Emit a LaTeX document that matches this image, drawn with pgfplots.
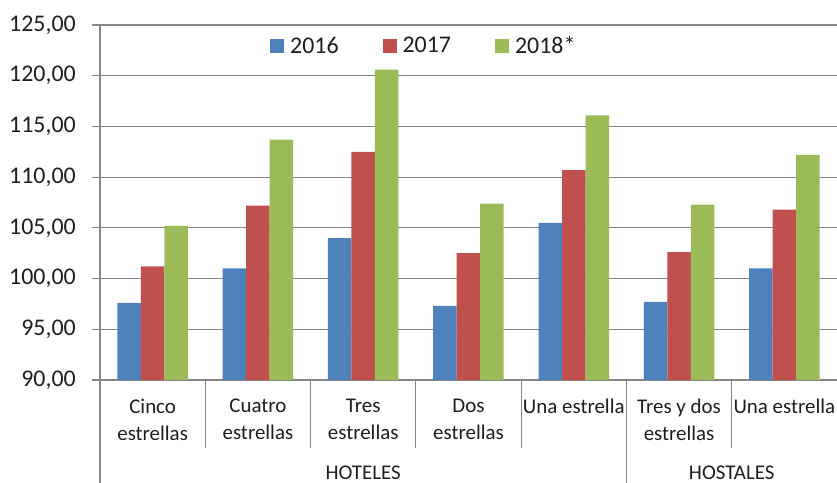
\documentclass[border=0pt]{standalone}
\usepackage{pgfplots}
\pgfplotsset{compat=1.18}
\usepackage{fontspec}
\setmainfont{Carlito}
\definecolor{c16}{RGB}{79,129,189}
\definecolor{c17}{RGB}{192,80,77}
\definecolor{c18}{RGB}{155,187,89}
\definecolor{gridc}{RGB}{134,134,134}
\definecolor{txt}{RGB}{30,30,30}
\pgfplotsset{sqleg/.style={legend image code/.code={\fill[##1] (0bp,-7bp) rectangle (14bp,7bp);}}}
\begin{document}
\begin{tikzpicture}
\useasboundingbox (-100bp,-103bp) rectangle (737bp,380bp);
\begin{axis}[
  scale only axis, width=737bp, height=355bp,
  anchor=south west, at={(0,0)},
  ybar=0pt, bar width=23.5bp,
  xmin=-0.5, xmax=6.5, ymin=90, ymax=125,
  xtick={0,...,6},
  xticklabels={{Cinco\\estrellas},{Cuatro\\estrellas},{Tres\\estrellas},{Dos\\estrellas},{Una estrella},{Tres y dos\\estrellas},{Una estrella}},
  xticklabel style={align=center, font=\fontsize{21}{27}\selectfont, anchor=north, inner sep=0pt, text=txt, yshift=-11bp},
  major x tick style={draw=none},
  ytick={90,95,...,125},
  yticklabel style={font=\fontsize{24}{24}\selectfont, text=txt, anchor=east, inner sep=0pt, xshift=-16bp,
    /pgf/number format/.cd, fixed, fixed zerofill, precision=2, use comma, 1000 sep={}, assume math mode=true},
  ymajorgrids, grid style={gridc, line width=1.2bp},
  axis x line*=bottom, axis y line*=left,
  axis line style={gridc, line width=1.2bp, -},
  tick align=outside, major tick length=8bp,
  y tick style={gridc, line width=1.2bp},
  clip=false,
  legend style={at={(0.438,0.941)}, anchor=center, draw=none, fill=none,
    legend columns=3, font=\fontsize{24}{24}\selectfont, text=txt,
    /tikz/every odd column/.append style={column sep=6bp},
    /tikz/every even column/.append style={column sep=44bp},
    inner sep=0pt, nodes={inner sep=0pt}},
]
\addplot[fill=c16, draw=none, sqleg] coordinates {(0,97.6) (1,101.0) (2,104.0) (3,97.3) (4,105.5) (5,97.7) (6,101.0)};
\addplot[fill=c17, draw=none, sqleg] coordinates {(0,101.2) (1,107.2) (2,112.5) (3,102.5) (4,110.7) (5,102.6) (6,106.8)};
\addplot[fill=c18, draw=none, sqleg] coordinates {(0,105.2) (1,113.7) (2,120.6) (3,107.4) (4,116.1) (5,107.3) (6,112.2)};
\legend{2016,2017,2018*}
\pgfplotsinvokeforeach{0.5,1.5,2.5,3.5,5.5}{
  \draw[gridc, line width=1.2bp] (axis cs:#1,90) -- ++(0bp,-68bp);
}
\draw[gridc, line width=1.2bp] (axis cs:-0.5,90) -- ++(0bp,-103bp);
\draw[gridc, line width=1.2bp] (axis cs:4.5,90) -- ++(0bp,-103bp);
\node[anchor=base, font=\fontsize{21}{21}\selectfont, text=txt] at (axis cs:2,90) [yshift=-99bp] {HOTELES};
\node[anchor=base, font=\fontsize{21}{21}\selectfont, text=txt] at (axis cs:5.5,90) [yshift=-99bp] {HOSTALES};
\end{axis}
\end{tikzpicture}
\end{document}
